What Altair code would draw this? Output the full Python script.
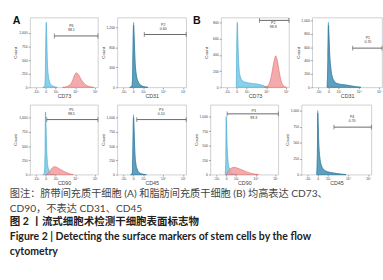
import altair as alt
import pandas as pd

# ---------------- data ----------------
T_TICKS = [-1, 0, 1, 3, 5]
T_LABELS = ["-10³", "0", "10³", "10⁴", "10⁵"]
T_DOMAIN = [-1.6, 5.3]

# A - umbilical cord MSC
A_CD73_CTRL_T = [-0.3, -0.12, -0.05, 0.0, 0.05, 0.1, 0.16, 0.25, 0.37, 0.55, 0.8, 1.15]
A_CD73_CTRL_N = [0, 10, 250, 900, 1200, 900, 480, 230, 110, 45, 15, 0]
A_CD73_SAMP_T = [1.7, 2.1, 2.5, 2.75, 2.95, 3.1, 3.3, 3.55, 3.85, 4.15, 4.5, 4.9]
A_CD73_SAMP_N = [0, 12, 55, 140, 235, 268, 240, 160, 80, 35, 10, 0]
A_CD73_YTICKS = [0, 250, 500, 750, 1000]

A_CD31_CTRL_T = [-0.35, -0.15, -0.07, -0.02, 0.03, 0.09, 0.17, 0.3, 0.5, 0.75, 1.05, 1.45]
A_CD31_CTRL_N = [0, 15, 200, 900, 1300, 1000, 560, 260, 110, 45, 15, 0]
A_CD31_SAMP_T = [-0.35, -0.15, -0.07, -0.02, 0.03, 0.09, 0.17, 0.3, 0.5, 0.75, 1.05, 1.45]
A_CD31_SAMP_N = [0, 12, 180, 850, 1250, 980, 540, 250, 105, 40, 12, 0]
A_CD31_YTICKS = [0, 400, 800, 1200]

A_CD90_CTRL_T = [-0.3, -0.15, -0.08, -0.03, 0.02, 0.08, 0.15, 0.25, 0.4, 0.6, 0.9]
A_CD90_CTRL_N = [0, 20, 400, 1100, 900, 500, 250, 110, 45, 12, 0]
A_CD90_SAMP_T = [0.05, 0.3, 0.55, 0.8, 0.95, 1.2, 1.5, 1.8, 2.1, 2.4, 2.8]
A_CD90_SAMP_N = [0, 40, 100, 135, 138, 120, 90, 60, 35, 15, 0]
A_CD90_YTICKS = [0, 250, 500, 750, 1000]

A_CD45_CTRL_T = [-0.25, -0.1, -0.03, 0.02, 0.08, 0.15, 0.25, 0.4, 0.6, 0.9, 1.3]
A_CD45_CTRL_N = [0, 30, 600, 1050, 800, 430, 200, 90, 35, 10, 0]
A_CD45_SAMP_T = [-0.25, -0.1, -0.03, 0.02, 0.08, 0.15, 0.25, 0.4, 0.6, 0.9, 1.3]
A_CD45_SAMP_N = [0, 25, 560, 1000, 760, 400, 190, 85, 30, 8, 0]
A_CD45_YTICKS = [0, 250, 500, 750, 1000]

# B - adipose MSC
B_CD73_CTRL_T = [-0.05, 0.0, 0.05, 0.1, 0.18, 0.3, 0.5, 0.8, 1.2, 1.7, 2.2, 2.6, 2.9, 3.2]
B_CD73_CTRL_N = [0, 600, 800, 620, 330, 160, 90, 65, 55, 45, 38, 25, 10, 0]
B_CD73_SAMP_T = [2.8, 3.1, 3.4, 3.6, 3.8, 3.95, 4.1, 4.3, 4.5, 4.75, 5.05]
B_CD73_SAMP_N = [0, 15, 80, 200, 330, 388, 340, 200, 80, 20, 0]
B_CD73_YTICKS = [0, 200, 400, 600, 800]

B_CD31_CTRL_T = [-0.12, -0.05, 0.0, 0.05, 0.12, 0.22, 0.35, 0.55, 0.85, 1.3, 1.8, 2.3, 2.8, 3.2]
B_CD31_CTRL_N = [0, 450, 972, 800, 520, 320, 180, 100, 60, 45, 35, 22, 8, 0]
B_CD31_SAMP_T = [-0.12, -0.05, 0.0, 0.05, 0.12, 0.22, 0.35, 0.55, 0.85, 1.3, 1.8, 2.3, 2.8, 3.2]
B_CD31_SAMP_N = [0, 420, 930, 780, 500, 300, 170, 95, 55, 40, 30, 18, 6, 0]
B_CD31_YTICKS = [0, 200, 400, 600, 800, 1000]

B_CD90_CTRL_T = [-0.1, -0.03, 0.0, 0.04, 0.1, 0.18, 0.3, 0.5, 0.75, 1.1]
B_CD90_CTRL_N = [0, 300, 1000, 850, 500, 260, 120, 50, 15, 0]
B_CD90_SAMP_T = [0.0, 0.2, 0.45, 0.7, 0.85, 1.1, 1.5, 1.9, 2.4, 2.9, 3.3]
B_CD90_SAMP_N = [0, 50, 105, 122, 125, 115, 90, 60, 30, 10, 0]
B_CD90_YTICKS = [0, 250, 500, 750, 1000]

B_CD45_CTRL_T = [-0.1, -0.03, 0.0, 0.04, 0.1, 0.2, 0.35, 0.6, 0.9, 1.3, 1.8, 2.3, 2.8]
B_CD45_CTRL_N = [0, 400, 1000, 820, 500, 280, 150, 80, 50, 35, 20, 8, 0]
B_CD45_SAMP_T = [-0.1, -0.03, 0.0, 0.04, 0.1, 0.2, 0.35, 0.6, 0.9, 1.3, 1.8, 2.3, 2.8]
B_CD45_SAMP_N = [0, 380, 960, 790, 480, 265, 140, 75, 45, 30, 18, 6, 0]
B_CD45_YTICKS = [0, 250, 500, 750, 1000]

# gates: [t start, t end, count level], gate name, percentage, label t
GATES = {
    "A73": ([0.87, 5.3, 946], "P6", "98.1", 2.6),
    "A31": ([1.1, 5.3, 1060], "P2", "0.60", 3.0),
    "A90": ([0.1, 5.3, 965], "P5", "98.5", 2.6),
    "A45": ([0.35, 5.3, 965], "P3", "0.10", 2.8),
    "B73": ([2.3, 5.3, 825], "P2", "98.8", 3.7),
    "B31": ([2.4, 5.3, 586], "P1", "0.70", 3.9),
    "B90": ([0.1, 5.3, 1047], "P3", "99.3", 2.8),
    "B45": ([1.6, 5.3, 742], "P4", "0.70", 3.4),
}

CAPTION_NORMAL = ["图注：脐带间充质干细胞 (A) 和脂肪间充质干细胞 (B) 均高表达 CD73、",
                  "CD90，不表达 CD31、CD45"]
CAPTION_BOLD = ["图 2 丨流式细胞术检测干细胞表面标志物",
                "Figure 2 | Detecting the surface markers of stem cells by the flow",
                "cytometry"]

# ---------------- styling ----------------
FONT = "Liberation Sans"
BLUE_FILL, BLUE_LINE = "#7ccbe8", "#3aa2cb"
RED_FILL, RED_LINE = "#f39c9c", "#e06767"
NEG_FILL, NEG_LINE = "#4d8cab", "#3a7593"

label_expr = " : ".join(f"datum.value == {v} ? '{l}'" for v, l in zip(T_TICKS, T_LABELS)) + " : ''"


def panel(marker, ymax, yticks, ct, cn, st, sn, positive, gate_key, width, height,
          lab_dy=(-10, -6)):
    xs = alt.Scale(domain=T_DOMAIN, nice=False, zero=False)
    ys = alt.Scale(domain=[0, ymax], nice=False)
    ctrl = pd.DataFrame({"t": ct, "n": cn})
    samp = pd.DataFrame({"t": st, "n": sn})
    g, pname, pval, lt = GATES[gate_key]
    gate = pd.DataFrame({"t": [g[0]], "t2": [g[1]], "n": [g[2]]})
    caps = pd.DataFrame({"t": [g[0], g[1]], "n": [g[2], g[2]]})
    lab = pd.DataFrame({"t": [lt], "n": [g[2]], "name": [pname], "val": [pval]})

    xaxis = alt.Axis(values=T_TICKS, labelExpr=label_expr, title=marker)
    yaxis = alt.Axis(values=yticks, title="Count")
    X = alt.X("t:Q", scale=xs, axis=xaxis)
    Y = alt.Y("n:Q", scale=ys, axis=yaxis)

    base_ctrl = alt.Chart(ctrl).mark_area(
        interpolate="monotone", fill=BLUE_FILL, stroke=BLUE_LINE, strokeWidth=0.6,
        fillOpacity=0.9
    ).encode(x=X, y=Y)

    if positive:
        sf, sl, so = RED_FILL, RED_LINE, 0.85
    else:
        sf, sl, so = NEG_FILL, NEG_LINE, 0.7
    base_samp = alt.Chart(samp).mark_area(
        interpolate="monotone", fill=sf, stroke=sl, strokeWidth=0.6, fillOpacity=so
    ).encode(x=X, y=Y)

    rule = alt.Chart(gate).mark_rule(color="#555555", strokeWidth=0.9).encode(
        x=X, x2="t2:Q", y=Y)
    cap = alt.Chart(caps).mark_tick(orient="vertical", size=5, thickness=0.9,
                                    color="#555555").encode(x=X, y=Y)
    t1 = alt.Chart(lab).mark_text(fontSize=3.6, font=FONT, color="#333333",
                                  dy=lab_dy[0]).encode(x=X, y=Y, text="name:N")
    t2 = alt.Chart(lab).mark_text(fontSize=3.6, font=FONT, color="#333333",
                                  dy=lab_dy[1]).encode(x=X, y=Y, text="val:N")
    return alt.layer(base_ctrl, base_samp, rule, cap, t1, t2).properties(
        width=width, height=height)


H = 72
pA73 = panel("CD73", 1285, A_CD73_YTICKS, A_CD73_CTRL_T, A_CD73_CTRL_N, A_CD73_SAMP_T,
             A_CD73_SAMP_N, True, "A73", 70, H)
pA31 = panel("CD31", 1400, A_CD31_YTICKS, A_CD31_CTRL_T, A_CD31_CTRL_N, A_CD31_SAMP_T,
             A_CD31_SAMP_N, False, "A31", 71, H)
pB73 = panel("CD73", 860, B_CD73_YTICKS, B_CD73_CTRL_T, B_CD73_CTRL_N, B_CD73_SAMP_T,
             B_CD73_SAMP_N, True, "B73", 70, H, lab_dy=(3, 7))
pB31 = panel("CD31", 1043, B_CD31_YTICKS, B_CD31_CTRL_T, B_CD31_CTRL_N, B_CD31_SAMP_T,
             B_CD31_SAMP_N, False, "B31", 72, H)
pA90 = panel("CD90", 1224, A_CD90_YTICKS, A_CD90_CTRL_T, A_CD90_CTRL_N, A_CD90_SAMP_T,
             A_CD90_SAMP_N, True, "A90", 70, H)
pA45 = panel("CD45", 1224, A_CD45_YTICKS, A_CD45_CTRL_T, A_CD45_CTRL_N, A_CD45_SAMP_T,
             A_CD45_SAMP_N, False, "A45", 71, H)
pB90 = panel("CD90", 1203, B_CD90_YTICKS, B_CD90_CTRL_T, B_CD90_CTRL_N, B_CD90_SAMP_T,
             B_CD90_SAMP_N, True, "B90", 70, H, lab_dy=(-3, 4))
pB45 = panel("CD45", 1091, B_CD45_YTICKS, B_CD45_CTRL_T, B_CD45_CTRL_N, B_CD45_SAMP_T,
             B_CD45_SAMP_N, False, "B45", 72, H)

letter = dict(anchor="start", frame="bounds", fontSize=11, fontWeight="bold",
              font=FONT, color="#111111", offset=-9)

topA = alt.hconcat(pA73, pA31, spacing=1, title=alt.TitleParams("A", **letter))
topB = alt.hconcat(pB73, pB31, spacing=5, title=alt.TitleParams("B", dx=-11, **letter))
botA = alt.hconcat(pA90, pA45, spacing=1)
botB = alt.hconcat(pB90, pB45, spacing=5)

row1 = alt.hconcat(topA, topB, spacing=6)
row2 = alt.hconcat(botA, botB, spacing=6)

CAP_FONT = "Lato, Noto Sans CJK SC"
chart = alt.vconcat(
    row1, row2, spacing=5,
    title=alt.TitleParams(
        text=CAPTION_NORMAL, subtitle=CAPTION_BOLD, orient="bottom", anchor="start",
        frame="bounds", offset=3, dx=-3,
        font=CAP_FONT, fontSize=10.5, fontWeight="normal", color="#444444",
        lineHeight=15.5,
        subtitleFont=CAP_FONT, subtitleFontSize=10.8, subtitleFontWeight="bold",
        subtitleColor="#222222", subtitleLineHeight=15.3, subtitlePadding=2,
    ),
).properties(
    padding={"left": 10, "top": 11, "right": 0, "bottom": 0},
    background="white",
).configure_view(
    stroke="#c4c4c4", strokeWidth=0.8
).configure_axis(
    domain=False, grid=False, tickColor="#666666", tickWidth=0.6,
    labelFont=FONT, titleFont=FONT, labelColor="#444444", titleColor="#444444",
    titleFontWeight="normal", labelFontSize=3.5,
).configure_axisX(
    tickSize=1.5, labelPadding=0.5, titlePadding=0.5, titleFontSize=5.5,
    minExtent=5.5, maxExtent=5.5,
).configure_axisY(
    tickSize=2, labelPadding=1, titlePadding=1.5, titleFontSize=4.5,
    minExtent=11, maxExtent=11,
)

chart.save("out.html", embed_options={"renderer": "svg", "actions": False})
